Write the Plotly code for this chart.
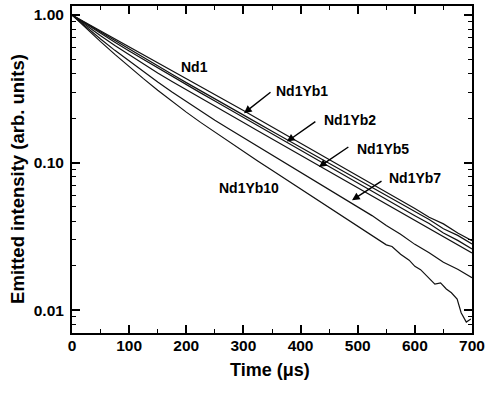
import plotly.graph_objects as go

# ---------------- data ----------------
time_us = [0, 25, 50, 75, 100, 125, 150, 175, 200, 225, 250, 275, 300, 325, 350,
           375, 400, 425, 450, 475, 500, 525, 550, 575, 600, 625, 650, 675, 700]

nd1 = [1.000, 0.884, 0.782, 0.691, 0.611, 0.540, 0.4775, 0.4222, 0.3733, 0.3300, 0.2906,
       0.2559, 0.2253, 0.1984, 0.1748, 0.1539, 0.1355, 0.1193, 0.1051, 0.0925, 0.0815,
       0.0718, 0.0632, 0.0556, 0.0488, 0.0426, 0.0384, 0.0333, 0.0295]

nd1yb1 = [1.000, 0.875, 0.765, 0.670, 0.587, 0.5146, 0.4516, 0.3963, 0.3481, 0.3060,
          0.2699, 0.2380, 0.2099, 0.1851, 0.1632, 0.1440, 0.1270, 0.1120, 0.0987, 0.0871,
          0.0768, 0.0679, 0.0595, 0.0529, 0.0463, 0.0412, 0.0356, 0.0321, 0.0281]

nd1yb2 = [1.000, 0.864, 0.750, 0.653, 0.570, 0.4989, 0.4370, 0.3836, 0.3371, 0.2967,
          0.2610, 0.2296, 0.2020, 0.1777, 0.1563, 0.1375, 0.1210, 0.1064, 0.0936, 0.0824,
          0.0725, 0.0635, 0.0563, 0.0491, 0.0436, 0.0386, 0.0333, 0.0297, 0.0260]

nd1yb5 = [1.000, 0.848, 0.724, 0.621, 0.537, 0.4651, 0.4050, 0.3541, 0.3109, 0.2736,
          0.2409, 0.2122, 0.1868, 0.1645, 0.1449, 0.1276, 0.1124, 0.0989, 0.0871, 0.0767,
          0.0676, 0.0597, 0.0522, 0.0463, 0.0404, 0.0360, 0.0313, 0.0279, 0.0244]

nd1yb7 = [1.000, 0.827, 0.688, 0.576, 0.486, 0.4120, 0.3510, 0.3003, 0.2584, 0.2232,
          0.1937, 0.1687, 0.1473, 0.1288, 0.1129, 0.0989, 0.0867, 0.0758, 0.0662, 0.0577,
          0.0502, 0.0437, 0.0374, 0.0327, 0.0279, 0.0245, 0.0211, 0.0189, 0.0166]

time_yb10 = [0, 25, 50, 75, 100, 125, 150, 175, 200, 225, 250, 275, 300, 325, 350, 375,
             400, 425, 450, 475, 500, 525, 550, 560, 575, 590, 600, 610, 625, 635, 645,
             655, 664, 674, 681, 690, 698]
nd1yb10 = [1.000, 0.810, 0.660, 0.541, 0.4467, 0.3706, 0.3094, 0.2600, 0.2197, 0.1872,
           0.1605, 0.1380, 0.1189, 0.1025, 0.0886, 0.0765, 0.0662, 0.0573, 0.0496, 0.0428,
           0.0369, 0.0318, 0.0277, 0.0270, 0.0239, 0.0218, 0.0198, 0.0188, 0.0164, 0.0150,
           0.0153, 0.0139, 0.0131, 0.0119, 0.0096, 0.0083, 0.0087]

series = [("Nd1", time_us, nd1), ("Nd1Yb1", time_us, nd1yb1), ("Nd1Yb2", time_us, nd1yb2),
          ("Nd1Yb5", time_us, nd1yb5), ("Nd1Yb7", time_us, nd1yb7),
          ("Nd1Yb10", time_yb10, nd1yb10)]

x_ticks = [0, 100, 200, 300, 400, 500, 600, 700]
y_ticks = [0.01, 0.1, 1.0]
y_tick_text = ["0.01", "0.10", "1.00"]

# ---------------- figure ----------------
FONT = "Liberation Sans, Arial, sans-serif"
fig = go.Figure()
for name, t, v in series:
    fig.add_trace(go.Scatter(x=t, y=v, mode="lines", name=name,
                             line=dict(color="#111111", width=1.2), showlegend=False))

# curve labels: (text, x in µs, log10 y)
labels = [("Nd1", 215, -0.349), ("Nd1Yb1", 403, -0.518), ("Nd1Yb2", 486, -0.714),
          ("Nd1Yb5", 545, -0.911), ("Nd1Yb7", 600, -1.105), ("Nd1Yb10", 310, -1.174)]
for txt, lx, ly in labels:
    fig.add_annotation(x=lx, y=ly, text=txt, showarrow=False,
                       font=dict(family=FONT, size=14, color="black", weight="bold"),
                       xanchor="center", yanchor="middle")

# arrows: tip (x µs, log10 y), tail pixel offsets
arrows = [(301, -0.665, 28, -22), (376, -0.858, 30, -21),
          (432, -1.030, 31, -21), (490, -1.255, 31, -20)]
for ax_, ay_, dx, dy in arrows:
    fig.add_annotation(x=ax_, y=ay_, text="", showarrow=True, ax=dx, ay=dy,
                       arrowhead=2, arrowsize=1.1, arrowwidth=1.4, arrowcolor="black",
                       standoff=0)

# axis titles
fig.add_annotation(x=0.496, y=-0.112, xref="paper", yref="paper", text="Time (μs)",
                   showarrow=False, font=dict(family=FONT, size=18, color="black", weight="bold"),
                   xanchor="center", yanchor="middle")
fig.add_annotation(x=-0.136, y=0.47, xref="paper", yref="paper",
                   text="Emitted intensity (arb. units)", textangle=-90,
                   showarrow=False, font=dict(family=FONT, size=18.5, color="black", weight="bold"),
                   xanchor="center", yanchor="middle")

minor_y = [0.008, 0.009] + [k / 100 for k in range(2, 10)] + [k / 10 for k in range(2, 10)]

fig.update_xaxes(range=[0, 700], tickvals=x_ticks, ticks="inside", ticklen=8, tickwidth=1.6,
                 tickcolor="black", showline=True, linecolor="black", linewidth=2,
                 mirror="ticks", showgrid=False, zeroline=False, ticklabeloverflow="allow",
                 ticklabelstandoff=-3,
                 tickfont=dict(family=FONT, size=15.5, color="black", weight="bold"),
                 minor=dict(dtick=50, tick0=0, ticks="inside", ticklen=4, tickwidth=1.4,
                            tickcolor="black", showgrid=False))
fig.update_yaxes(type="log", range=[-2.155, 0.061], tickvals=y_ticks, ticktext=y_tick_text,
                 ticks="inside", ticklen=8, tickwidth=1.6, tickcolor="black",
                 showline=True, linecolor="black", linewidth=2, mirror="ticks",
                 showgrid=False, zeroline=False, ticklabelstandoff=3,
                 tickfont=dict(family=FONT, size=15.5, color="black", weight="bold"),
                 minor=dict(tickvals=minor_y, ticks="inside", ticklen=4, tickwidth=1.4,
                            tickcolor="black", showgrid=False))

fig.update_layout(width=489, height=393, margin=dict(l=72, r=12, t=4, b=60),
                  plot_bgcolor="white", paper_bgcolor="white")

fig.write_html("out.html")
